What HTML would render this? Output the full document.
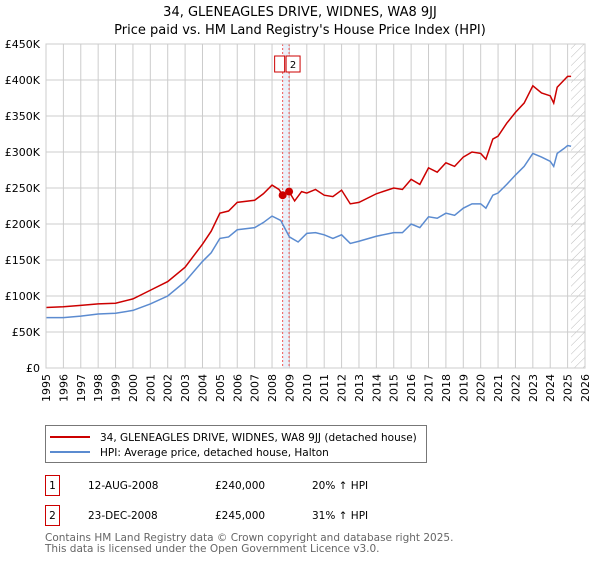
<!DOCTYPE html>
<html><head><meta charset="utf-8"><style>
body{margin:0;background:#fff;font-family:"DejaVu Sans","Liberation Sans",sans-serif;}
svg text{font-family:"DejaVu Sans","Liberation Sans",sans-serif;}
</style></head><body>
<svg width="600" height="560" xmlns="http://www.w3.org/2000/svg">
<text x="300" y="16" text-anchor="middle" font-size="13">34, GLENEAGLES DRIVE, WIDNES, WA8 9JJ</text>
<text x="300" y="34" text-anchor="middle" font-size="13">Price paid vs. HM Land Registry's House Price Index (HPI)</text>
<g id="grid"></g><g id="plot"></g>
<g>
<rect x="45.5" y="425.5" width="381" height="37" fill="#fff" stroke="#777"/>
<line x1="50" y1="437" x2="90" y2="437" stroke="#cc0000" stroke-width="2"/>
<text x="100" y="441" font-size="10.5">34, GLENEAGLES DRIVE, WIDNES, WA8 9JJ (detached house)</text>
<line x1="50" y1="452" x2="90" y2="452" stroke="#5b8bd0" stroke-width="2"/>
<text x="100" y="456" font-size="10.5">HPI: Average price, detached house, Halton</text>
</g>
<g font-size="10.5">
<rect x="45.5" y="475.5" width="14" height="20" fill="none" stroke="#cc0000"/><text x="52.5" y="489" text-anchor="middle">1</text>
<text x="88" y="489">12-AUG-2008</text><text x="215" y="489">£240,000</text><text x="312" y="489">20% ↑ HPI</text>
<rect x="45.5" y="505.5" width="14" height="20" fill="none" stroke="#cc0000"/><text x="52.5" y="519" text-anchor="middle">2</text>
<text x="88" y="519">23-DEC-2008</text><text x="215" y="519">£245,000</text><text x="312" y="519">31% ↑ HPI</text>
</g>
<text x="45" y="541" font-size="10.5" fill="#666">Contains HM Land Registry data © Crown copyright and database right 2025.</text>
<text x="45" y="552" font-size="10.5" fill="#666">This data is licensed under the Open Government Licence v3.0.</text>
</svg>
<script>
const years=[1995,1996,1997,1998,1999,2000,2001,2002,2003,2004,2005,2006,2007,2008,2009,2010,2011,2012,2013,2014,2015,2016,2017,2018,2019,2020,2021,2022,2023,2024,2025,2026];
const yTicks=[0,50000,100000,150000,200000,250000,300000,350000,400000,450000];
const yLabels=["£0","£50K","£100K","£150K","£200K","£250K","£300K","£350K","£400K","£450K"];
const hpiT=[1995,1996,1997,1998,1999,2000,2001,2002,2003,2004,2004.5,2005,2005.5,2006,2007,2007.5,2008,2008.5,2009,2009.5,2010,2010.5,2011,2011.5,2012,2012.5,2013,2014,2015,2015.5,2016,2016.5,2017,2017.5,2018,2018.5,2019,2019.5,2020,2020.3,2020.7,2021,2021.5,2022,2022.5,2023,2023.5,2024,2024.2,2024.4,2024.8,2025,2025.2];
const hpiV=[70,70,72,75,76,80,89,100,120,148,160,180,182,192,195,202,211,205,182,175,187,188,185,180,185,173,176,183,188,188,200,195,210,208,215,212,222,228,228,222,240,243,255,268,280,298,293,287,280,298,305,309,308];
const propT=[1995,1996,1997,1998,1999,2000,2001,2002,2003,2004,2004.5,2005,2005.5,2006,2007,2007.5,2008,2008.4,2008.61,2008.98,2009.3,2009.7,2010,2010.5,2011,2011.5,2012,2012.5,2013,2014,2015,2015.5,2016,2016.5,2017,2017.5,2018,2018.5,2019,2019.5,2020,2020.3,2020.7,2021,2021.5,2022,2022.5,2023,2023.5,2024,2024.2,2024.4,2024.8,2025,2025.2];
const propV=[84,85,87,89,90,96,108,120,140,172,190,215,218,230,233,242,254,248,240,245,232,245,243,248,240,238,247,228,230,242,250,248,262,255,278,272,285,280,293,300,298,290,318,322,340,355,368,392,382,378,368,390,400,405,405];
const saleT=[2008.61,2008.98];
const saleV=[240000,245000];
const saleLabels=["1","2"];
const X0=46,X1=585,Y0=368,Y1=44;
const xs=t=>X0+(t-1995)/(2026-1995)*(X1-X0);
const ys=v=>Y0-v/450000*(Y0-Y1);
const NS="http://www.w3.org/2000/svg";
const grid=document.getElementById('grid'),plot=document.getElementById('plot');
function mk(tag,attrs,parent){const e=document.createElementNS(NS,tag);for(const k in attrs)e.setAttribute(k,attrs[k]);parent.appendChild(e);return e;}
// hatch for future
const defs=mk('defs',{},grid);
const pat=mk('pattern',{id:'hatch',width:6,height:6,patternUnits:'userSpaceOnUse',patternTransform:'rotate(45)'},defs);
mk('line',{x1:0,y1:0,x2:0,y2:6,stroke:'#bbb','stroke-width':1},pat);
const hz=mk('rect',{x:xs(2025.2),y:Y1,width:X1-xs(2025.2),height:Y0-Y1,fill:'url(#hatch)'},grid);


years.forEach(y=>{
 const l=mk('line',{x1:xs(y),x2:xs(y),y1:Y1,y2:Y0,stroke:'#ccc'},grid);
 
 
 const t=mk('text',{x:0,y:0,'font-size':11,'text-anchor':'end',transform:`translate(${xs(y)+4},${Y0+6}) rotate(-90)`},grid);
 t.textContent=y;
 
 
});
yTicks.forEach((v,i)=>{
 const l=mk('line',{x1:X0,x2:X1,y1:ys(v),y2:ys(v),stroke:'#ccc'},grid);
 
 
 const t=mk('text',{x:X0-6,y:ys(v)+4,'font-size':11,'text-anchor':'end'},grid);
 t.textContent=yLabels[i];
 
 
});
const band=mk('rect',{x:xs(saleT[0]),y:Y1,width:xs(saleT[1])-xs(saleT[0]),height:Y0-Y1,fill:'#dde6f5',opacity:0.6},plot);


saleT.forEach((t,i)=>{
 const l=mk('line',{x1:xs(t),x2:xs(t),y1:Y1,y2:Y0,stroke:'#e55','stroke-dasharray':'2,2'},plot);
 
 
});
const hp=mk('polyline',{points:hpiT.map((t,i)=>xs(t)+','+ys(hpiV[i]*1000)).join(' '),fill:'none',stroke:'#5b8bd0','stroke-width':1.5},plot);


const pp=mk('polyline',{points:propT.map((t,i)=>xs(t)+','+ys(propV[i]*1000)).join(' '),fill:'none',stroke:'#cc0000','stroke-width':1.5},plot);


saleT.forEach((t,i)=>{
 const c=mk('circle',{cx:xs(t),cy:ys(saleV[i]),r:4,fill:'#cc0000'},plot);
 
 
 const bx=xs(t)-(i===0?8:3);
 const r=mk('rect',{x:bx,y:56,width:i===0?10:14,height:16,fill:'#fff',stroke:'#cc0000'},plot);
 
 
 if(i===1){const tx=mk('text',{x:bx+7,y:68,'font-size':10,'text-anchor':'middle'},plot);tx.textContent=saleLabels[i];
 
 }
});
const ax=mk('rect',{x:X0,y:Y1,width:X1-X0,height:Y0-Y1,fill:'none',stroke:'#ccc'},plot);


</script>
</body></html>
